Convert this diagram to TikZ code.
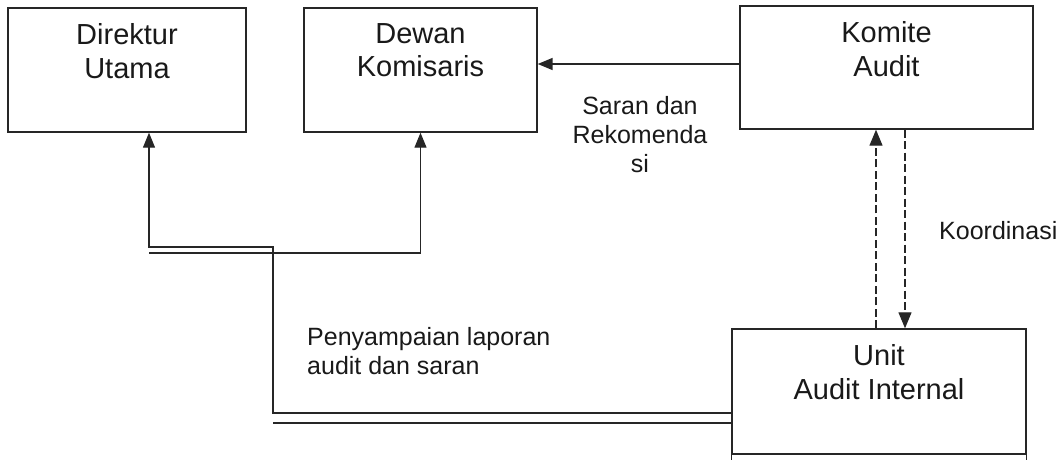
\documentclass[tikz,border=0pt]{standalone}
\usepackage{fontspec}
\setmainfont{Liberation Sans}
\usetikzlibrary{arrows.meta,positioning}

\begin{document}
\begin{tikzpicture}[x=1pt, y=-1pt,
        unitbox/.style={draw=black!85, line width=1.4pt, inner sep=0pt},
        boxtext/.style={align=center, inner sep=0pt, text=black!90,
          font=\fontsize{29}{33.5}\selectfont},
        note/.style={align=center, inner sep=0pt, text=black!90,
          font=\fontsize{25}{29}\selectfont},
        report/.style={draw=black!85, line width=1.2pt},
        advice/.style={draw=black!85, line width=1.6pt,
          -{Triangle[length=15pt,width=12pt]}},
        coord/.style={draw=black!85, line width=1.2pt, dash pattern=on 8pt off 3.5pt,
          -{Triangle[length=16pt,width=13pt]}}
      ]
      \useasboundingbox (0,0) rectangle (1057,460);

      \node[unitbox, minimum width=238pt, minimum height=124pt] (dirut) at (127,70) {};
      \node[unitbox, minimum width=233pt, minimum height=124pt] (dekom) at (420.5,70) {};
      \node[unitbox, minimum width=293pt, minimum height=123pt] (komite) at (886.5,67.5) {};
      \node[unitbox, minimum width=294pt, minimum height=125pt] (unit) at (879,391.5) {};
      \draw[unitbox] (unit.south west) -- ++(0,6) (unit.south east) -- ++(0,6);

      \node[boxtext, below=16pt of dirut.north] (dirut-t) {Direktur\\Utama};
      \node[boxtext, below=16pt of dekom.north] (dekom-t) {Dewan\\Komisaris};
      \node[boxtext, below=16pt of komite.north] (komite-t) {Komite\\Audit};
      \node[boxtext, below=16pt of unit.north] (unit-t) {Unit\\Audit Internal};

      \node[note, anchor=north] (saran) at (640,96) {Saran dan\\Rekomenda\\si};
      \node[note, anchor=north west, align=left] (laporan) at (307,327) {Penyampaian laporan\\audit dan saran};
      \node[note, anchor=base west] (koord) at (939,239) {Koordinasi};

      \coordinate (bend) at (273,247);
      \coordinate (split) at (149,253);

      \draw[advice] ([yshift=3.5pt]komite.west) -- ([yshift=3.5pt]komite.west -| dekom.east);

      \draw[report, -{Triangle[length=15pt,width=12pt]}] ([yshift=-21.5pt]unit.west) -| (bend) -| ([xshift=22pt]dirut.south);
      \draw[report] ([yshift=-31.5pt]unit.west) -- ([yshift=-31.5pt]unit.west -| bend);
      \draw[report, -{Triangle[length=15pt,width=12pt]}] (split) -| (dekom.south);

      \draw[coord] ([xshift=-3pt]unit.north) -- ([xshift=-3pt]unit.north |- komite.south);
      \draw[coord] ([xshift=26pt]unit.north |- komite.south) -- ([xshift=26pt]unit.north);
    \end{tikzpicture}
\end{document}
